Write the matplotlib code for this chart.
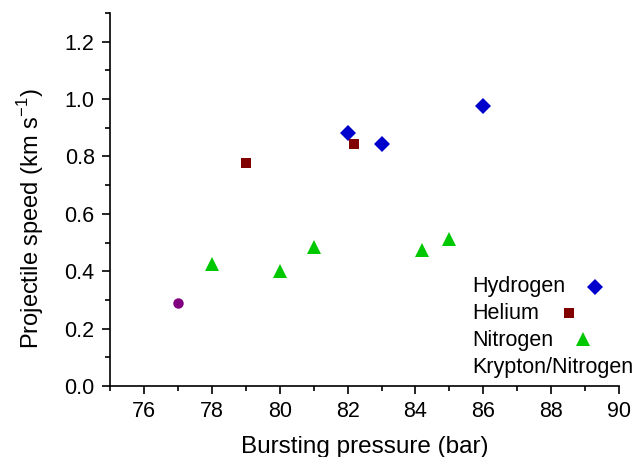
import matplotlib
matplotlib.use("Agg")
import matplotlib.pyplot as plt
from matplotlib.ticker import MultipleLocator

plt.rcParams['font.family'] = ['Liberation Sans', 'DejaVu Sans']

h_x = [82, 83, 86]
h_y = [0.883, 0.842, 0.976]
he_x = [79, 82.2]
he_y = [0.777, 0.844]
n_x = [78, 80, 81, 84.2, 85]
n_y = [0.424, 0.402, 0.484, 0.474, 0.512]
kr_x = [77]
kr_y = [0.290]

fig = plt.figure(figsize=(6.33, 4.57), dpi=100)
ax = fig.add_axes([0.1738, 0.1554, 0.8042, 0.8162])

ax.plot(h_x, h_y, 'D', color='#0000CC', ms=8, mew=0, linestyle='none')
ax.plot(he_x, he_y, 's', color='#800000', ms=6.7, mew=0, linestyle='none')
ax.plot(n_x, n_y, '^', color='#00C800', ms=9.5, mew=0, linestyle='none')
ax.plot(kr_x, kr_y, 'o', color='#800080', ms=7.5, mew=0, linestyle='none')

ax.set_xlim(75, 90)
ax.set_ylim(0, 1.3)
ax.xaxis.set_major_locator(MultipleLocator(2))
ax.xaxis.set_minor_locator(MultipleLocator(1))
ax.yaxis.set_major_locator(MultipleLocator(0.2))
ax.yaxis.set_minor_locator(MultipleLocator(0.1))
ax.set_xticks([76, 78, 80, 82, 84, 86, 88, 90])
ax.set_yticks([0.0, 0.2, 0.4, 0.6, 0.8, 1.0, 1.2])
ax.set_yticklabels(['0.0', '0.2', '0.4', '0.6', '0.8', '1.0', '1.2'])

for s in ['top', 'right']:
    ax.spines[s].set_visible(False)
for s in ['left', 'bottom']:
    ax.spines[s].set_linewidth(1.2)

ax.tick_params(which='major', direction='out', length=6, width=1.2, labelsize=15.5, pad=5)
ax.tick_params(which='minor', direction='out', length=3.5, width=1.2)

ax.set_xlabel('Bursting pressure (bar)', fontsize=17.5, labelpad=10)
ax.set_ylabel('Projectile speed (km s$^{\\mathregular{-1}}$)', fontsize=17)
ax.yaxis.set_label_coords(-0.126, 0.449)

# legend (text followed by marker)
leg_labels = ['Hydrogen', 'Helium', 'Nitrogen', 'Krypton/Nitrogen']
leg_y = [0.266, 0.195, 0.123, 0.050]
for lab, yy in zip(leg_labels, leg_y):
    ax.text(0.7106, yy, lab, transform=ax.transAxes, fontsize=15.5, va='center', ha='left')
ax.plot([0.953], [0.266], 'D', color='#0000CC', ms=8, mew=0, transform=ax.transAxes, clip_on=False)
ax.plot([0.902], [0.195], 's', color='#800000', ms=6.7, mew=0, transform=ax.transAxes, clip_on=False)
ax.plot([0.930], [0.126], '^', color='#00C800', ms=9.5, mew=0, transform=ax.transAxes, clip_on=False)

fig.savefig('out.png', dpi=100)
